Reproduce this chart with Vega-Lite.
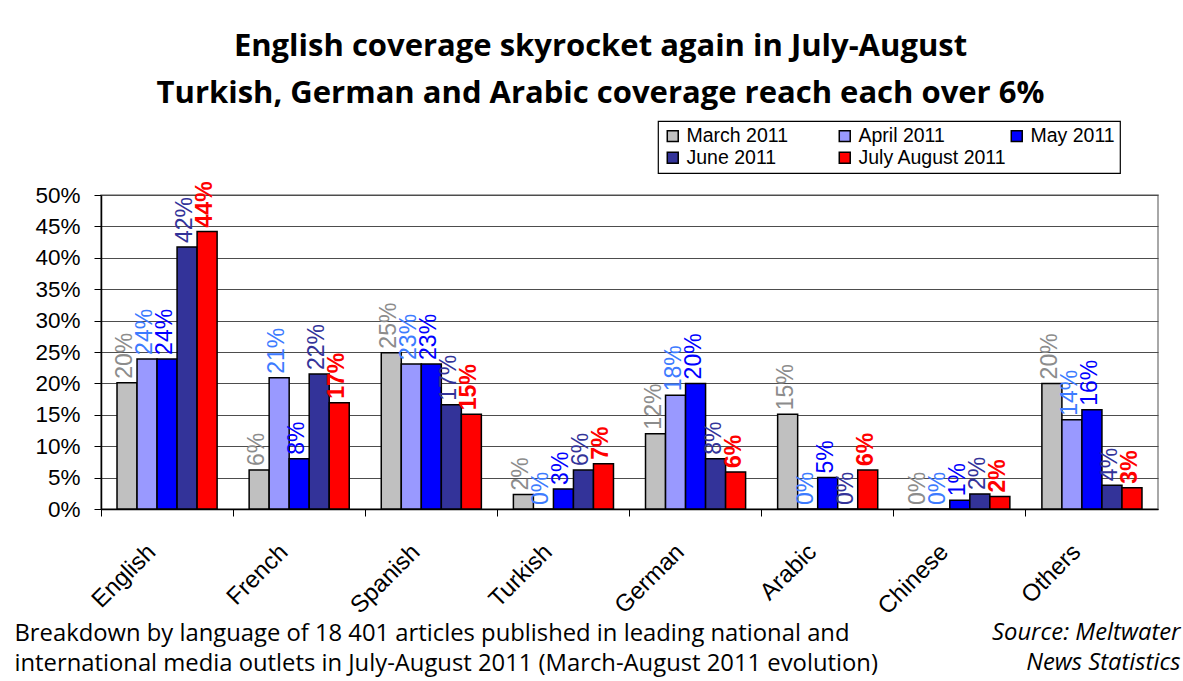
{
  "$schema": "https://vega.github.io/schema/vega-lite/v6.json",
  "width": 1057,
  "height": 314,
  "autosize": "none",
  "padding": {"left": 101, "top": 195, "right": 25, "bottom": 172},
  "background": "white",
  "config": {
    "view": {"stroke": "#8c8c8c", "strokeWidth": 1.5},
    "axis": {"labelFont": "Liberation Sans", "labelColor": "black"},
    "legend": {
      "orient": "none", "legendX": 557, "legendY": -74,
      "columns": 3, "direction": "horizontal", "gridAlign": "all",
      "columnPadding": 0, "rowPadding": 1, "padding": 5,
      "strokeColor": "black", "strokeWidth": 1.2, "fillColor": "white",
      "labelFont": "Liberation Sans", "labelFontSize": 19.5, "labelColor": "black", "labelLimit": 300,
      "symbolType": "square", "symbolSize": 120, "symbolStrokeColor": "black", "symbolStrokeWidth": 1.5, "symbolOpacity": 1
    }
  },
  "title": {
    "text": ["English coverage skyrocket again in July-August", "Turkish, German and Arabic coverage reach each over 6%"],
    "font": "Open Sans", "fontSize": 31, "fontWeight": "bold", "color": "black",
    "anchor": "middle", "frame": "group", "dx": -29, "offset": 10, "lineHeight": 47
  },
  "data": {
    "values": [
      {"lang": "English", "series": "March 2011", "v": 0.201},
      {"lang": "English", "series": "April 2011", "v": 0.239},
      {"lang": "English", "series": "May 2011", "v": 0.239},
      {"lang": "English", "series": "June 2011", "v": 0.417},
      {"lang": "English", "series": "July August 2011", "v": 0.442},
      {"lang": "French", "series": "March 2011", "v": 0.062},
      {"lang": "French", "series": "April 2011", "v": 0.209},
      {"lang": "French", "series": "May 2011", "v": 0.080},
      {"lang": "French", "series": "June 2011", "v": 0.215},
      {"lang": "French", "series": "July August 2011", "v": 0.169},
      {"lang": "Spanish", "series": "March 2011", "v": 0.249},
      {"lang": "Spanish", "series": "April 2011", "v": 0.231},
      {"lang": "Spanish", "series": "May 2011", "v": 0.231},
      {"lang": "Spanish", "series": "June 2011", "v": 0.166},
      {"lang": "Spanish", "series": "July August 2011", "v": 0.151},
      {"lang": "Turkish", "series": "March 2011", "v": 0.023},
      {"lang": "Turkish", "series": "April 2011", "v": 0.0},
      {"lang": "Turkish", "series": "May 2011", "v": 0.032},
      {"lang": "Turkish", "series": "June 2011", "v": 0.062},
      {"lang": "Turkish", "series": "July August 2011", "v": 0.072},
      {"lang": "German", "series": "March 2011", "v": 0.120},
      {"lang": "German", "series": "April 2011", "v": 0.181},
      {"lang": "German", "series": "May 2011", "v": 0.200},
      {"lang": "German", "series": "June 2011", "v": 0.080},
      {"lang": "German", "series": "July August 2011", "v": 0.059},
      {"lang": "Arabic", "series": "March 2011", "v": 0.151},
      {"lang": "Arabic", "series": "April 2011", "v": 0.0},
      {"lang": "Arabic", "series": "May 2011", "v": 0.050},
      {"lang": "Arabic", "series": "June 2011", "v": 0.0},
      {"lang": "Arabic", "series": "July August 2011", "v": 0.062},
      {"lang": "Chinese", "series": "March 2011", "v": 0.0},
      {"lang": "Chinese", "series": "April 2011", "v": 0.0},
      {"lang": "Chinese", "series": "May 2011", "v": 0.014},
      {"lang": "Chinese", "series": "June 2011", "v": 0.024},
      {"lang": "Chinese", "series": "July August 2011", "v": 0.020},
      {"lang": "Others", "series": "March 2011", "v": 0.200},
      {"lang": "Others", "series": "April 2011", "v": 0.142},
      {"lang": "Others", "series": "May 2011", "v": 0.158},
      {"lang": "Others", "series": "June 2011", "v": 0.038},
      {"lang": "Others", "series": "July August 2011", "v": 0.034}
    ]
  },
  "encoding": {
    "x": {
      "field": "lang", "type": "nominal",
      "sort": ["English", "French", "Spanish", "Turkish", "German", "Arabic", "Chinese", "Others"],
      "scale": {"paddingInner": 0, "paddingOuter": 0},
      "axis": {
        "bandPosition": 0, "labelOffset": -15, "labelAngle": -45, "labelAlign": "right", "labelBaseline": "middle",
        "labelPadding": 32, "labelFontSize": 24, "tickSize": 7, "tickColor": "black", "domainColor": "black", "domainWidth": 1.5,
        "grid": false,
        "title": ["Breakdown by language of  18 401 articles published in leading national and", "international media outlets in July-August 2011 (March-August 2011 evolution)"],
        "titleFont": "Open Sans", "titleFontSize": 23.8, "titleFontWeight": "normal", "titleColor": "black",
        "titleX": -87, "titleY": 131, "titleAlign": "left", "titleAnchor": "start", "titleBaseline": "alphabetic", "titleLineHeight": 30
      }
    },
    "xOffset": {
      "field": "series", "type": "nominal",
      "sort": ["March 2011", "April 2011", "May 2011", "June 2011", "July August 2011"],
      "scale": {"paddingInner": 0, "paddingOuter": 0.8}
    },
    "y": {
      "field": "v", "type": "quantitative",
      "scale": {"domain": [0, 0.5], "nice": false},
      "axis": {
        "values": [0, 0.05, 0.1, 0.15, 0.2, 0.25, 0.3, 0.35, 0.4, 0.45, 0.5],
        "format": ".0%", "labelFontSize": 22.5, "labelPadding": 14, "tickSize": 7, "tickColor": "black",
        "domainColor": "black", "domainWidth": 1.5, "gridColor": "#4d4d4d", "gridWidth": 1,
        "title": ["Source: Meltwater", "News Statistics"],
        "titleFont": "Open Sans", "titleFontSize": 23.8, "titleFontWeight": "normal", "titleFontStyle": "italic", "titleColor": "black",
        "titleAngle": 0, "titleX": 1079, "titleY": 444, "titleAlign": "right", "titleAnchor": "start", "titleBaseline": "alphabetic", "titleLineHeight": 30
      }
    }
  },
  "layer": [
    {
      "mark": {"type": "bar", "stroke": "black", "strokeWidth": 1.5},
      "encoding": {
        "color": {
          "field": "series", "type": "nominal",
          "sort": ["March 2011", "April 2011", "May 2011", "June 2011", "July August 2011"],
          "scale": {"domain": ["March 2011", "April 2011", "May 2011", "June 2011", "July August 2011"], "range": ["#C0C0C0", "#9999FF", "#0000FF", "#333399", "#FF0000"]},
          "legend": {"title": null}
        }
      }
    },
    {
      "transform": [{"filter": "datum.series !== 'July August 2011'"}],
      "mark": {"type": "text", "angle": 270, "align": "left", "baseline": "middle", "dx": 4, "dy": -2, "font": "Liberation Sans", "fontSize": 23},
      "encoding": {
        "text": {"field": "v", "type": "quantitative", "format": ".0%"},
        "color": {
          "field": "series", "type": "nominal",
          "scale": {"domain": ["March 2011", "April 2011", "May 2011", "June 2011"], "range": ["#8c8c8c", "#3d7bff", "#0000FF", "#333399"]},
          "legend": null
        }
      }
    },
    {
      "transform": [{"filter": "datum.series === 'July August 2011'"}],
      "mark": {"type": "text", "angle": 270, "align": "left", "baseline": "middle", "dx": 4, "dy": -2, "font": "Liberation Sans", "fontSize": 23, "fontWeight": "bold", "color": "#FF0000"},
      "encoding": {
        "text": {"field": "v", "type": "quantitative", "format": ".0%"}
      }
    }
  ],
  "resolve": {"scale": {"color": "independent"}}
}
